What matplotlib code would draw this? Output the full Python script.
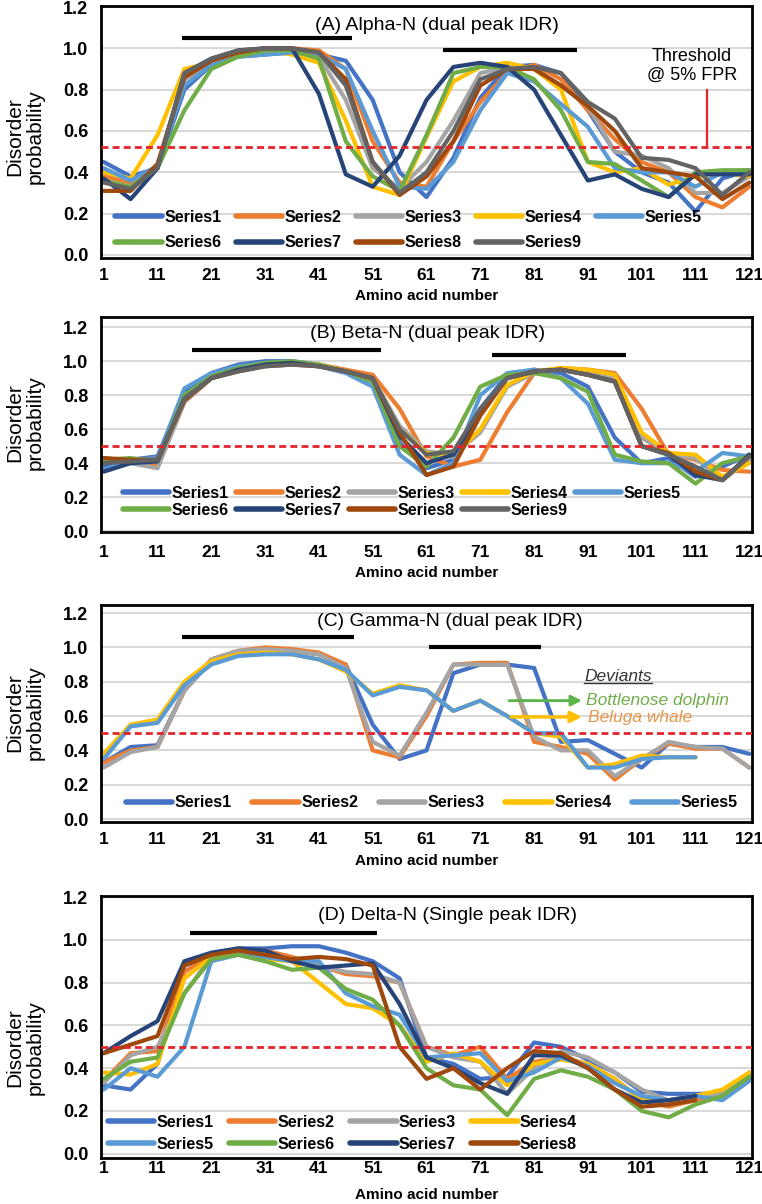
import matplotlib
matplotlib.use("Agg")
import matplotlib.pyplot as plt
import numpy as np

nan = np.nan

residue = [1, 6, 11, 16, 21, 26, 31, 36, 41, 46, 51, 56, 61,
           66, 71, 76, 81, 86, 91, 96, 101, 106, 111, 116, 121]

# (A) Alpha-N
alpha = {
    'Series1': [0.45, 0.38, 0.42, 0.80, 0.92, 0.96, 0.97, 0.98, 0.97, 0.94, 0.75, 0.40, 0.28,
                0.47, 0.76, 0.91, 0.92, 0.88, 0.70, 0.50, 0.40, 0.35, 0.21, 0.37, 0.41],
    'Series2': [0.38, 0.35, 0.43, 0.85, 0.93, 0.98, 1.00, 1.00, 0.99, 0.90, 0.55, 0.35, 0.33,
                0.55, 0.74, 0.88, 0.92, 0.85, 0.70, 0.56, 0.45, 0.40, 0.28, 0.23, 0.33],
    'Series3': [0.41, 0.36, 0.42, 0.85, 0.94, 0.98, 0.99, 0.99, 0.96, 0.75, 0.42, 0.32, 0.45,
                0.65, 0.88, 0.91, 0.90, 0.82, 0.72, 0.50, 0.48, 0.42, 0.30, 0.30, 0.38],
    'Series4': [0.40, 0.37, 0.58, 0.90, 0.93, 0.97, 0.99, 0.97, 0.93, 0.65, 0.33, 0.29, 0.57,
                0.84, 0.91, 0.93, 0.90, 0.80, 0.45, 0.40, 0.42, 0.34, 0.38, 0.40, 0.38],
    'Series5': [0.42, 0.36, 0.43, 0.82, 0.92, 0.96, 0.97, 0.98, 0.97, 0.90, 0.60, 0.33, 0.32,
                0.45, 0.70, 0.88, 0.84, 0.73, 0.62, 0.42, 0.40, 0.40, 0.33, 0.40, 0.41],
    'Series6': [0.36, 0.33, 0.42, 0.70, 0.90, 0.96, 0.99, 0.99, 0.95, 0.55, 0.38, 0.31, 0.58,
                0.88, 0.91, 0.91, 0.85, 0.70, 0.45, 0.44, 0.36, 0.28, 0.40, 0.41, 0.41],
    'Series7': [0.37, 0.27, 0.42, 0.88, 0.95, 0.99, 1.00, 1.00, 0.78, 0.39, 0.33, 0.48, 0.75,
                0.91, 0.93, 0.91, 0.80, 0.58, 0.36, 0.39, 0.32, 0.28, 0.39, 0.39, 0.39],
    'Series8': [0.31, 0.31, 0.44, 0.86, 0.94, 0.98, 1.00, 1.00, 0.98, 0.85, 0.45, 0.29, 0.38,
                0.55, 0.82, 0.90, 0.90, 0.82, 0.72, 0.60, 0.42, 0.40, 0.38, 0.27, 0.35],
    'Series9': [0.35, 0.32, 0.42, 0.88, 0.95, 0.99, 1.00, 1.00, 0.98, 0.82, 0.45, 0.30, 0.40,
                0.60, 0.85, 0.90, 0.91, 0.88, 0.74, 0.66, 0.47, 0.46, 0.42, 0.29, 0.40],
}

# (B) Beta-N
beta = {
    'Series1': [0.38, 0.42, 0.44, 0.82, 0.93, 0.98, 1.00, 1.00, 0.98, 0.94, 0.88, 0.52, 0.37,
                0.42, 0.72, 0.92, 0.95, 0.93, 0.85, 0.55, 0.40, 0.43, 0.32, 0.38, 0.45],
    'Series2': [0.43, 0.41, 0.38, 0.76, 0.90, 0.95, 0.98, 0.99, 0.98, 0.95, 0.92, 0.72, 0.44,
                0.38, 0.42, 0.70, 0.93, 0.96, 0.95, 0.93, 0.72, 0.45, 0.42, 0.36, 0.35],
    'Series3': [0.42, 0.40, 0.37, 0.76, 0.90, 0.95, 0.98, 0.99, 0.98, 0.94, 0.90, 0.62, 0.47,
                0.45, 0.58, 0.85, 0.93, 0.95, 0.93, 0.90, 0.55, 0.45, 0.43, 0.30, 0.42],
    'Series4': [0.42, 0.41, 0.41, 0.78, 0.90, 0.95, 0.98, 0.99, 0.98, 0.94, 0.90, 0.60, 0.46,
                0.44, 0.60, 0.86, 0.94, 0.96, 0.95, 0.92, 0.58, 0.46, 0.45, 0.32, 0.40],
    'Series5': [0.36, 0.42, 0.43, 0.84, 0.93, 0.97, 0.99, 0.99, 0.97, 0.93, 0.85, 0.45, 0.33,
                0.40, 0.80, 0.93, 0.95, 0.90, 0.75, 0.42, 0.40, 0.40, 0.35, 0.46, 0.44],
    'Series6': [0.42, 0.43, 0.41, 0.80, 0.91, 0.96, 0.99, 1.00, 0.98, 0.94, 0.88, 0.50, 0.38,
                0.55, 0.85, 0.92, 0.93, 0.90, 0.82, 0.45, 0.41, 0.40, 0.28, 0.40, 0.44],
    'Series7': [0.35, 0.40, 0.41, 0.78, 0.90, 0.95, 0.98, 0.99, 0.97, 0.94, 0.90, 0.56, 0.40,
                0.45, 0.70, 0.90, 0.94, 0.95, 0.92, 0.88, 0.50, 0.45, 0.33, 0.30, 0.45],
    'Series8': [0.43, 0.42, 0.42, 0.77, 0.90, 0.94, 0.97, 0.98, 0.97, 0.94, 0.90, 0.58, 0.33,
                0.38, 0.68, 0.90, 0.94, 0.95, 0.92, 0.88, 0.50, 0.46, 0.35, 0.30, 0.44],
    'Series9': [0.40, 0.41, 0.42, 0.78, 0.90, 0.94, 0.97, 0.98, 0.97, 0.94, 0.90, 0.60, 0.45,
                0.47, 0.72, 0.90, 0.94, 0.95, 0.92, 0.88, 0.50, 0.45, 0.38, 0.30, 0.44],
}

# (C) Gamma-N
gamma = {
    'Series1': [0.33, 0.42, 0.43, 0.75, 0.92, 0.97, 0.99, 0.98, 0.96, 0.90, 0.55, 0.35, 0.40,
                0.85, 0.90, 0.90, 0.88, 0.45, 0.46, 0.38, 0.30, 0.44, 0.42, 0.42, 0.38],
    'Series2': [0.33, 0.40, 0.42, 0.75, 0.93, 0.98, 1.00, 0.99, 0.97, 0.90, 0.40, 0.36, 0.60,
                0.90, 0.91, 0.91, 0.45, 0.42, 0.38, 0.23, 0.35, 0.44, 0.41, 0.41, 0.30],
    'Series3': [0.30, 0.39, 0.42, 0.75, 0.93, 0.98, 0.99, 0.98, 0.96, 0.88, 0.45, 0.37, 0.62,
                0.90, 0.90, 0.90, 0.48, 0.40, 0.40, 0.25, 0.35, 0.45, 0.42, 0.41, 0.30],
    'Series4': [0.38, 0.55, 0.58, 0.80, 0.92, 0.96, 0.97, 0.96, 0.93, 0.86, 0.73, 0.78, 0.75,
                0.63, 0.69, 0.60, 0.50, 0.48, 0.30, 0.32, 0.37, 0.36, 0.36, nan, nan],
    'Series5': [0.35, 0.54, 0.56, 0.78, 0.90, 0.95, 0.96, 0.96, 0.93, 0.87, 0.72, 0.77, 0.75,
                0.63, 0.69, 0.60, 0.50, 0.50, 0.30, 0.30, 0.35, 0.36, 0.36, nan, nan],
}

# (D) Delta-N
delta = {
    'Series1': [0.32, 0.30, 0.42, 0.88, 0.93, 0.96, 0.96, 0.97, 0.97, 0.94, 0.90, 0.82, 0.45,
                0.42, 0.35, 0.36, 0.52, 0.50, 0.44, 0.38, 0.29, 0.28, 0.28, 0.28, 0.35],
    'Series2': [0.34, 0.47, 0.48, 0.85, 0.93, 0.95, 0.95, 0.92, 0.88, 0.84, 0.83, 0.80, 0.50,
                0.46, 0.50, 0.35, 0.43, 0.45, 0.42, 0.35, 0.25, 0.22, 0.25, 0.27, 0.37],
    'Series3': [0.33, 0.46, 0.50, 0.75, 0.92, 0.95, 0.94, 0.90, 0.88, 0.85, 0.84, 0.80, 0.50,
                0.45, 0.43, 0.28, 0.40, 0.48, 0.45, 0.38, 0.30, 0.25, 0.27, 0.28, 0.38],
    'Series4': [0.38, 0.37, 0.42, 0.82, 0.92, 0.93, 0.91, 0.90, 0.80, 0.70, 0.68, 0.60, 0.43,
                0.47, 0.43, 0.32, 0.42, 0.44, 0.42, 0.35, 0.25, 0.25, 0.27, 0.30, 0.38],
    'Series5': [0.30, 0.40, 0.36, 0.50, 0.90, 0.93, 0.92, 0.90, 0.90, 0.75, 0.69, 0.65, 0.45,
                0.46, 0.47, 0.34, 0.38, 0.45, 0.41, 0.33, 0.27, 0.25, 0.27, 0.25, 0.34],
    'Series6': [0.35, 0.43, 0.45, 0.75, 0.91, 0.93, 0.90, 0.86, 0.87, 0.77, 0.72, 0.60, 0.40,
                0.32, 0.30, 0.18, 0.35, 0.39, 0.36, 0.30, 0.20, 0.17, 0.23, 0.27, 0.36],
    'Series7': [0.47, 0.55, 0.62, 0.90, 0.94, 0.96, 0.95, 0.90, 0.87, 0.88, 0.89, 0.70, 0.45,
                0.40, 0.33, 0.28, 0.46, 0.46, 0.40, 0.30, 0.24, 0.25, 0.27, nan, nan],
    'Series8': [0.47, 0.51, 0.55, 0.88, 0.93, 0.95, 0.93, 0.91, 0.92, 0.91, 0.88, 0.50, 0.35,
                0.40, 0.30, 0.40, 0.48, 0.47, 0.40, 0.30, 0.22, 0.23, 0.25, nan, nan],
}

titles = ['(A) Alpha-N (dual peak IDR)', '(B) Beta-N (dual peak IDR)',
          '(C) Gamma-N (dual peak IDR)', '(D) Delta-N (Single peak IDR)']
thresholds = [0.52, 0.50, 0.50, 0.50]

# IDR bars: (start, end, height)
idr_bars = [
    [(15.6, 47.1, 1.05), (64.1, 88.9, 0.99)],
    [(17.4, 52.6, 1.065), (73.1, 98.0, 1.035)],
    [(15.6, 47.5, 1.062), (61.5, 82.2, 1.004)],
    [(17.0, 51.8, 1.033)],
]

palette = {'Series1': '#4472C4', 'Series2': '#ED7D31', 'Series3': '#A5A5A5',
           'Series4': '#FFC000', 'Series5': '#5B9BD5', 'Series6': '#70AD47',
           'Series7': '#264478', 'Series8': '#9E480E', 'Series9': '#636363'}

plt.rcParams['font.family'] = ['Liberation Sans', 'DejaVu Sans']

fig = plt.figure(figsize=(7.62, 12.04), dpi=100)

W, H = 762.0, 1204.0
# panel boxes in pixels: top, bottom
boxes = [(6, 258), (317, 532), (605, 822), (896, 1158)]
ylims = [(-0.015, 1.205), (-0.005, 1.26), (-0.017, 1.247), (-0.02, 1.205)]
title_pos = [(63, 1.113), (61.2, 1.165), (65.3, 1.15), (64.9, 1.116)]
tick_pads = [7.5, 9.5, 7.5, 2.0]
label_pads = [4, 4, 5, 9]
ylabel_y = [137, 423, 713, 1048]
leg_cfg = [  # ncol, x, y, colspacing, labelspacing
    (5, 0.022, 0.111, 0.9, 0.65),
    (5, 0.034, 0.141, 0.45, 0.12),
    (5, 0.038, 0.089, 1.3, 0.5),
    (4, 0.011, 0.094, 0.95, 0.45),
]
datasets = [alpha, beta, gamma, delta]


def row_major(handles, ncol):
    # matplotlib fills legend columns first; reorder so rows read left to right
    nrow = int(np.ceil(len(handles) / ncol))
    out = []
    for c in range(ncol):
        for r in range(nrow):
            k = r * ncol + c
            if k < len(handles):
                out.append(handles[k])
    return out


axes = []
for i, data in enumerate(datasets):
    top, bot = boxes[i]
    ax = fig.add_axes([101 / W, 1 - bot / H, 651 / W, (bot - top) / H])
    axes.append(ax)

    lines = []
    for name, vals in data.items():
        ln, = ax.plot(residue, vals, color=palette[name], lw=3.0,
                      solid_joinstyle='round', solid_capstyle='round', label=name)
        lines.append(ln)

    ax.axhline(thresholds[i], color='#E3242B', lw=2, ls=(0, (2.5, 1.5)), zorder=5)
    for x0, x1, yb in idr_bars[i]:
        ax.plot([x0, x1], [yb, yb], color='black', lw=3, solid_capstyle='butt', zorder=5)

    tx, ty = title_pos[i]
    ax.text(tx, ty, titles[i], ha='center', va='center', fontsize=14)

    ax.set_xlim(0.5, 121.5)
    ax.set_ylim(*ylims[i])
    ax.set_xticks(range(1, 122, 10))
    ax.set_yticks(np.arange(0, 1.21, 0.2))
    ax.set_yticklabels(['{:.1f}'.format(v) for v in np.arange(0, 1.21, 0.2)])
    ax.tick_params(axis='both', length=0)
    ax.tick_params(axis='y', pad=9, labelsize=13)
    ax.tick_params(axis='x', pad=tick_pads[i], labelsize=12.5)
    for lab in ax.get_xticklabels() + ax.get_yticklabels():
        lab.set_fontweight('bold')
    ax.yaxis.grid(True, color='#D9D9D9', lw=1.5)
    ax.set_axisbelow(True)
    for sp in ax.spines.values():
        sp.set_linewidth(2)
        sp.set_color('black')
    ax.set_xlabel('Amino acid number', fontsize=11, fontweight='bold', labelpad=label_pads[i])

    fig.text(25 / W, 1 - ylabel_y[i] / H, 'Disorder\nprobability', rotation=90,
             ha='center', va='center', fontsize=15, linespacing=1.15)

    ncol, lx, ly, cs, ls = leg_cfg[i]
    leg = ax.legend(handles=row_major(lines, ncol), ncol=ncol, loc='center left',
                    bbox_to_anchor=(lx, ly), frameon=False, borderpad=0, borderaxespad=0,
                    handlelength=2.9, handletextpad=0.15, columnspacing=cs,
                    labelspacing=ls, prop={'weight': 'bold', 'size': 11.5})
    for lh in leg.get_lines():
        lh.set_linewidth(4)
    leg.set_zorder(6)

# threshold note in panel A
axA = axes[0]
axA.text(110.3, 0.915, 'Threshold\n@ 5% FPR', ha='center', va='center',
         fontsize=13, linespacing=1.15, color='black')
axA.plot([113.2, 113.2], [0.52, 0.80], color='#E3242B', lw=1.6, zorder=5)

# deviants in panel C
axC = axes[2]
dev = axC.text(90.3, 0.83, 'Deviants', ha='left', va='center', fontsize=12.5,
               style='italic', color='#333333')
axC.annotate('', xy=(90.4, 0.69), xytext=(75.8, 0.69),
             arrowprops=dict(arrowstyle='-|>', color='#5BB34A', lw=2, mutation_scale=16))
axC.annotate('', xy=(90.4, 0.595), xytext=(76.2, 0.595),
             arrowprops=dict(arrowstyle='-|>', color='#FFC000', lw=2.5, mutation_scale=16))
axC.text(90.6, 0.69, 'Bottlenose dolphin', ha='left', va='center', fontsize=12.5,
         style='italic', color='#70AD47')
axC.text(91.0, 0.59, 'Beluga whale', ha='left', va='center', fontsize=12.5,
         style='italic', color='#E9964A')

fig.canvas.draw()
bb = dev.get_window_extent().transformed(axC.transData.inverted())
axC.plot([bb.x0, bb.x1], [bb.y0 + 0.005, bb.y0 + 0.005], color='#333333', lw=1)

fig.savefig('out.png', dpi=100)
